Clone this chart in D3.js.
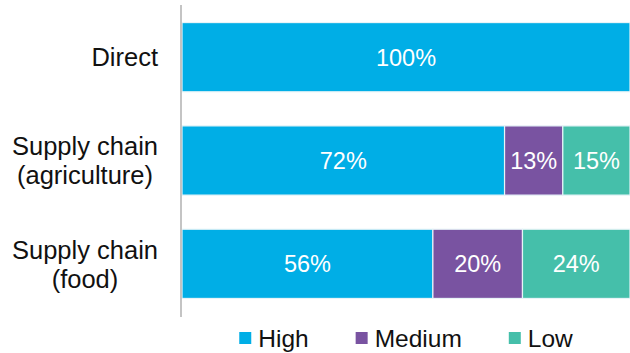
<!DOCTYPE html>
<html>
<head>
<meta charset="utf-8">
<script src="https://cdn.jsdelivr.net/npm/d3@7"></script>
<style>
    body { margin: 0; background: #fff; }
    svg { display: block; font-family: Arial, "Liberation Sans", sans-serif; }
</style>
</head>
<body>
<div id="chart"></div>
<script>
// categories (top to bottom), each label can span several lines
var categories = ['Direct', 'Supply chain (agriculture)', 'Supply chain (food)'];
var categoryLines = [['Direct'], ['Supply chain', '(agriculture)'], ['Supply chain', '(food)']];
var seriesNames = ['High', 'Medium', 'Low'];
// values in percent per category
var high = [100, 72, 56];
var medium = [0, 13, 20];
var low = [0, 15, 24];
var colors = ['#00aee6', '#7953a1', '#45bfaa'];

var width = 630, height = 353;
var margin = {top: 5, right: 0, bottom: 37, left: 182};

var svg = d3.select('#chart').append('svg')
    .attr('width', width)
    .attr('height', height);

// build the rows for the stack from the arrays above
var rows = categories.map(function(c, i) {
    return {category: c, High: high[i], Medium: medium[i], Low: low[i]};
});
var stacked = d3.stack().keys(seriesNames)(rows);

var yScale = d3.scaleBand().domain(categories)
    .range([margin.top, height - margin.bottom])
    .paddingInner(0.33).paddingOuter(0.17);
var xScale = d3.scaleLinear().domain([0, 100]).range([margin.left, width - margin.right]);
var color = d3.scaleOrdinal().domain(seriesNames).range(colors);

// stacked segments
var layers = svg.selectAll('g.layer').data(stacked).enter()
    .append('g').attr('class', 'layer')
    .attr('fill', function(d) { return color(d.key); });

layers.selectAll('rect')
    .data(function(d) { return d.filter(function(s) { return s[1] - s[0] > 0; }); })
    .enter().append('rect')
    .attr('x', function(s) { return xScale(s[0]); })
    .attr('y', function(s) { return yScale(s.data.category); })
    .attr('width', function(s) { return xScale(s[1]) - xScale(s[0]); })
    .attr('height', yScale.bandwidth())
    .attr('stroke', '#e8f4f8')
    .attr('stroke-width', 1.2);

// value labels in the middle of each segment
layers.selectAll('text')
    .data(function(d) { return d.filter(function(s) { return s[1] - s[0] > 0; }); })
    .enter().append('text')
    .attr('x', function(s) { return (xScale(s[0]) + xScale(s[1])) / 2; })
    .attr('y', function(s) { return yScale(s.data.category) + yScale.bandwidth() / 2; })
    .attr('dy', '0.36em')
    .attr('text-anchor', 'middle')
    .attr('fill', '#fff')
    .attr('font-size', '23.5px')
    .text(function(s) { return (s[1] - s[0]) + '%'; });

// vertical category axis line
svg.append('line')
    .attr('x1', margin.left - 1).attr('x2', margin.left - 1)
    .attr('y1', yScale.range()[0]).attr('y2', yScale.range()[1] + 1)
    .attr('stroke', '#c4c4c4')
    .attr('stroke-width', 2);

// category labels: block right-aligned, lines centered within the block
var labelRight = 158;
var lineHeight = 29;
categories.forEach(function(c, i) {
    var g = svg.append('g');
    var lines = categoryLines[i];
    var texts = lines.map(function(line, j) {
        return g.append('text')
            .attr('font-size', '25.5px')
            .attr('fill', '#111')
            .attr('text-anchor', 'middle')
            .attr('dy', '0.36em')
            .attr('y', yScale(c) + yScale.bandwidth() / 2 + (j - (lines.length - 1) / 2) * lineHeight)
            .text(line);
    });
    var maxW = d3.max(texts, function(t) { return t.node().getComputedTextLength(); });
    texts.forEach(function(t) { t.attr('x', labelRight - maxW / 2); });
});

// legend, centered under the plot area
var legend = svg.append('g');
var cursor = 0;
var legendY = 338;
seriesNames.forEach(function(name, i) {
    legend.append('rect')
        .attr('x', cursor).attr('y', legendY - 6)
        .attr('width', 12).attr('height', 12)
        .attr('fill', color(name));
    var t = legend.append('text')
        .attr('x', cursor + 19).attr('y', legendY)
        .attr('dy', '0.36em')
        .attr('font-size', '24.5px')
        .attr('fill', '#111')
        .text(name);
    cursor += 19 + t.node().getComputedTextLength() + 47;
});
var legendW = cursor - 47;
var plotCenter = (xScale.range()[0] + xScale.range()[1]) / 2;
legend.attr('transform', 'translate(' + (plotCenter - legendW / 2) + ',0)');
</script>
</body>
</html>
